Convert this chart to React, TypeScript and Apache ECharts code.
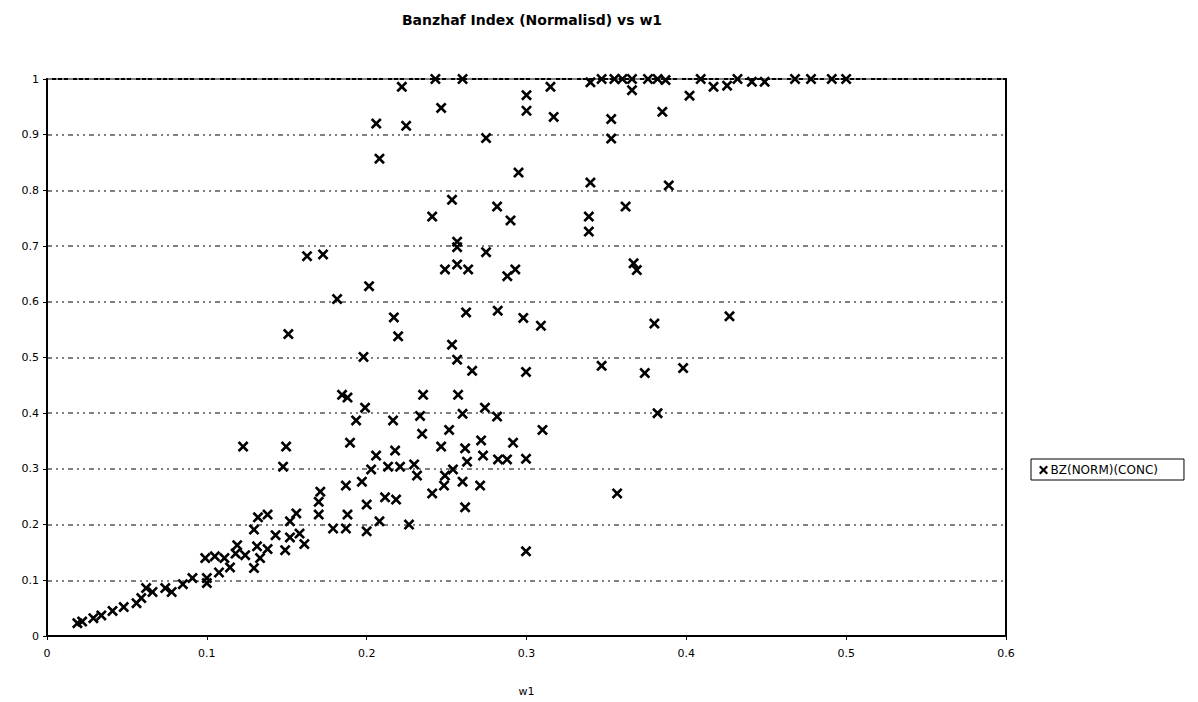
import { useEffect, useRef } from 'react';
import * as echarts from 'echarts';

const chartTitle = 'Banzhaf Index (Normalisd) vs w1';
const seriesName = 'BZ(NORM)(CONC)';
const xAxisName = 'w1';

const w1 = [
  0.222, 0.243, 0.260, 0.315, 0.340, 0.347, 0.355, 0.360, 0.366, 0.366, 0.376, 0.382, 0.387, 0.409, 0.417, 0.4255, 0.432, 0.441, 0.449, 0.468, 0.478, 0.491, 0.500, 0.402,
  0.2466, 0.206, 0.2247, 0.2747, 0.208, 0.300, 0.300, 0.317, 0.353, 0.353, 0.385, 0.295,
  0.2534, 0.241, 0.2816, 0.290, 0.340, 0.339, 0.339, 0.362, 0.389, 0.2566, 0.2566, 0.2747, 0.1627, 0.1727,
  0.249, 0.2566, 0.2635, 0.288, 0.293, 0.367, 0.369, 0.2015, 0.1815,
  0.2622, 0.282, 0.217, 0.2197, 0.151, 0.298, 0.309, 0.380, 0.427, 0.2534, 0.198, 0.2566,
  0.266, 0.2997, 0.347, 0.374, 0.398, 0.1846, 0.188, 0.199, 0.2353, 0.2572, 0.274, 0.382,
  0.1934, 0.2165, 0.2334, 0.260, 0.2816, 0.310, 0.2347, 0.2516, 0.1896, 0.2466, 0.2616, 0.2716, 0.2916, 0.2728, 0.2628, 0.2822, 0.2878, 0.2997, 0.1227, 0.1496, 0.1477, 0.2178, 0.2059, 0.2028, 0.2134, 0.2209, 0.2297,
  0.254, 0.249, 0.260, 0.271, 0.2484, 0.241, 0.3567, 0.2616, 0.2265, 0.2315, 0.197, 0.187, 0.171, 0.170, 0.170, 0.179, 0.187, 0.200, 0.200, 0.2115, 0.2184, 0.208, 0.188, 0.138, 0.132, 0.152, 0.156, 0.2997,
  0.1295, 0.152, 0.158, 0.161, 0.138, 0.149, 0.1314, 0.119, 0.124, 0.1333, 0.1295, 0.1145, 0.1076, 0.091, 0.100, 0.085, 0.066, 0.099, 0.105, 0.111, 0.118, 0.143,
  0.019, 0.022, 0.029, 0.034, 0.041, 0.048, 0.056, 0.059, 0.062, 0.074, 0.078, 0.100,
];

const bz = [
  0.986, 1.0, 1.0, 0.986, 0.994, 1.0, 1.0, 1.0, 0.980, 1.0, 1.0, 1.0, 0.998, 1.0, 0.986, 0.988, 1.0, 0.995, 0.995, 1.0, 1.0, 1.0, 1.0, 0.970,
  0.948, 0.920, 0.916, 0.894, 0.857, 0.971, 0.943, 0.932, 0.928, 0.893, 0.941, 0.832,
  0.783, 0.753, 0.771, 0.746, 0.814, 0.753, 0.726, 0.771, 0.809, 0.708, 0.698, 0.689, 0.682, 0.685,
  0.658, 0.667, 0.658, 0.646, 0.658, 0.669, 0.657, 0.628, 0.605,
  0.581, 0.584, 0.572, 0.538, 0.542, 0.571, 0.557, 0.561, 0.574, 0.523, 0.501, 0.496,
  0.476, 0.474, 0.485, 0.472, 0.481, 0.433, 0.428, 0.410, 0.433, 0.433, 0.410, 0.400,
  0.387, 0.387, 0.395, 0.399, 0.394, 0.370, 0.363, 0.370, 0.347, 0.340, 0.337, 0.351, 0.347, 0.324, 0.313, 0.317, 0.317, 0.318, 0.340, 0.340, 0.304, 0.333, 0.324, 0.299, 0.304, 0.304, 0.308,
  0.299, 0.288, 0.277, 0.270, 0.270, 0.256, 0.256, 0.231, 0.200, 0.288, 0.277, 0.270, 0.259, 0.241, 0.218, 0.193, 0.193, 0.188, 0.236, 0.249, 0.245, 0.206, 0.218, 0.218, 0.213, 0.206, 0.220, 0.152,
  0.191, 0.177, 0.184, 0.165, 0.156, 0.154, 0.161, 0.163, 0.145, 0.140, 0.122, 0.123, 0.114, 0.104, 0.104, 0.093, 0.079, 0.140, 0.143, 0.140, 0.148, 0.181,
  0.023, 0.026, 0.032, 0.037, 0.045, 0.052, 0.059, 0.068, 0.086, 0.086, 0.079, 0.095,
];

const crossPath =
  'path://M0,1.7L1.7,0L5,3.3L8.3,0L10,1.7L6.7,5L10,8.3L8.3,10L5,6.7L1.7,10L0,8.3L3.3,5Z';

const fmt = (v: number) => {
  const r = Math.round(v * 10) / 10;
  return String(r);
};

export default function App() {
  const ref = useRef<HTMLDivElement>(null);
  useEffect(() => {
    if (!ref.current) return;
    const chart = echarts.init(ref.current, undefined, { renderer: 'svg' });
    const font = 'DejaVu Sans';
    const gridLine = {
      show: true,
      lineStyle: { color: '#808080', width: 2, type: [5, 4, 2, 4, 2, 4] as any },
    };
    chart.setOption({
      animation: false,
      backgroundColor: '#ffffff',
      textStyle: { fontFamily: font },
      title: {
        text: chartTitle,
        left: 527,
        top: 8,
        textAlign: 'center',
        textStyle: { fontFamily: font, fontSize: 14, fontWeight: 'bold', color: '#000' },
      },
      legend: {
        left: 1031,
        top: 459,
        orient: 'vertical',
        padding: [5, 26, 4, 8],
        borderColor: '#000',
        borderWidth: 1,
        itemWidth: 10,
        itemHeight: 9,
        itemGap: 0,
        icon: crossPath,
        textStyle: { fontFamily: font, fontSize: 12, color: '#000', padding: [0, 0, 0, -3] },
        data: [seriesName],
      },
      grid: {
        left: 47,
        right: 192,
        top: 79,
        bottom: 64,
        show: true,
        borderColor: '#000',
        borderWidth: 2,
        backgroundColor: '#fff',
      },
      xAxis: {
        type: 'value',
        min: 0,
        max: 0.6,
        interval: 0.1,
        name: xAxisName,
        nameLocation: 'middle',
        nameGap: 50,
        nameTextStyle: { fontFamily: font, fontSize: 11, color: '#000' },
        axisLine: { show: true, onZero: false, lineStyle: { color: '#000', width: 2 } },
        axisTick: { show: true, length: 4, lineStyle: { color: '#000', width: 1 } },
        axisLabel: { fontFamily: font, fontSize: 11, color: '#000', margin: 12, formatter: fmt },
        splitLine: { show: false },
      },
      yAxis: {
        type: 'value',
        min: 0,
        max: 1,
        interval: 0.1,
        axisLine: { show: true, lineStyle: { color: '#000', width: 2 } },
        axisTick: { show: true, length: 4, lineStyle: { color: '#000', width: 1 } },
        axisLabel: { fontFamily: font, fontSize: 11, color: '#000', margin: 8, formatter: fmt },
        splitLine: gridLine,
      },
      series: [
        {
          name: seriesName,
          type: 'scatter',
          symbol: crossPath,
          symbolSize: 11,
          itemStyle: { color: '#000', opacity: 1 },
          data: w1.map((x, i) => [x, bz[i]]),
        },
      ],
    });
    return () => chart.dispose();
  }, []);
  return (
    <div
      ref={ref}
      style={{ position: 'fixed', left: 0, top: 0, width: 1198, height: 702 }}
    />
  );
}
